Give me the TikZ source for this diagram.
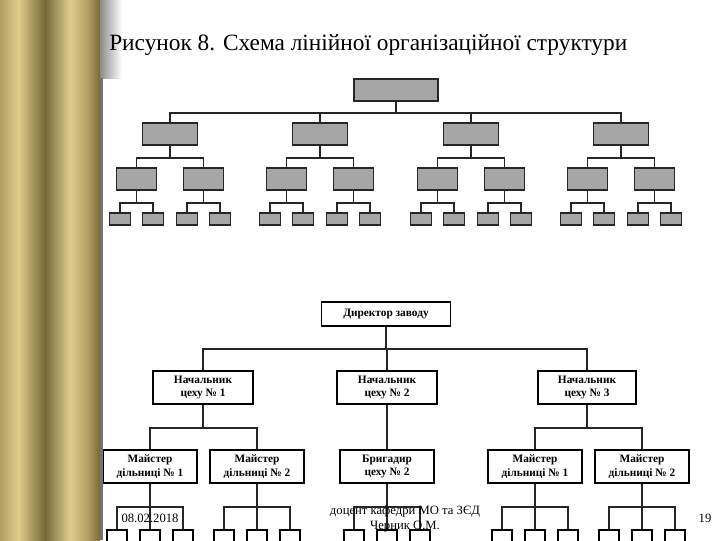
\documentclass[tikz,border=0pt]{standalone}
\usepackage{fontspec}
\setmainfont{Liberation Serif}
\definecolor{khl}{RGB}{222,206,140}
\definecolor{khd}{RGB}{120,104,56}
\definecolor{khm}{RGB}{176,158,96}
\begin{document}
\begin{tikzpicture}[x=0.75pt,y=-0.75pt,
  gbox/.style={draw=black!85,line width=1.2pt,fill=black!35,inner sep=0pt},
  wbox/.style={draw=black,line width=1.2pt,fill=white,inner sep=0pt,align=center,font=\fontsize{8.5}{10}\selectfont\bfseries},
  ln/.style={draw=black!85,line width=1.2pt},
  ft/.style={font=\fontsize{9.5}{11}\selectfont,inner sep=0pt}]
\useasboundingbox (0,0) rectangle (720,540);
\fill[white] (0,0) rectangle (720,540);
% decorative strip
\shade[left color=khm,right color=khl] (0,0) rectangle (18,540);
\shade[left color=khl,right color=khd] (18,0) rectangle (45,540);
\shade[left color=khd,right color=khl] (45,0) rectangle (70,540);
\shade[left color=khl,right color=khm] (70,0) rectangle (88,540);
\shade[left color=khm,right color=khd] (88,0) rectangle (100,540);
\shade[left color=black!45,right color=white] (100,0) rectangle (122,78);
\fill[black!55] (100,78) rectangle (103,540);
\node[anchor=west,inner sep=0pt,font=\fontsize{17.5}{20}\selectfont] (title) at (109,45) {Рисунок 8. Схема лінійної організаційної структури};
% top tree
\node[gbox,minimum width=84*0.75pt,minimum height=22*0.75pt] (R) at (396,90) {};
\foreach \i/\x in {1/170,2/320,3/471,4/621}{
  \node[gbox,minimum width=55*0.75pt,minimum height=22*0.75pt] (A\i) at (\x,134) {};
  \draw[ln] (R.south) -- ++(0,11) -| (A\i.north);
  \foreach \j/\dx in {1/-33.5,2/33.5}{
    \node[gbox,minimum width=40*0.75pt,minimum height=22*0.75pt] (B\i\j) at (\x+\dx,179) {};
    \draw[ln] (A\i.south) -- ++(0,12) -| (B\i\j.north);
    \foreach \k/\ex in {1/-16.5,2/16.5}{
      \node[gbox,minimum width=21*0.75pt,minimum height=12*0.75pt] (C\i\j\k) at (\x+\dx+\ex,219) {};
      \draw[ln] (B\i\j.south) -- ++(0,12) -| (C\i\j\k.north);
    }
  }
}
% bottom tree
\begin{scope}
\clip (103,290) rectangle (720,540);
\node[wbox,minimum width=129*0.75pt,minimum height=24*0.75pt] (D) at (386,314) {Директор заводу};
\node[wbox,minimum width=100*0.75pt,minimum height=33*0.75pt] (N1) at (203,387.5) {Начальник\\цеху № 1};
\node[wbox,minimum width=100*0.75pt,minimum height=33*0.75pt] (N2) at (387,387.5) {Начальник\\цеху № 2};
\node[wbox,minimum width=98*0.75pt,minimum height=33*0.75pt] (N3) at (587,387.5) {Начальник\\цеху № 3};
\foreach \n in {N1,N2,N3}{\draw[ln] (D.south) -- ++(0,22) -| (\n.north);}
\node[wbox,minimum width=94*0.75pt,minimum height=33*0.75pt] (M1) at (150,466.5) {Майстер\\дільниці № 1};
\node[wbox,minimum width=94*0.75pt,minimum height=33*0.75pt] (M2) at (257,466.5) {Майстер\\дільниці № 2};
\node[wbox,minimum width=94*0.75pt,minimum height=33*0.75pt] (M3) at (387,466.5) {Бригадир\\цеху № 2};
\node[wbox,minimum width=94*0.75pt,minimum height=33*0.75pt] (M4) at (535,466.5) {Майстер\\дільниці № 1};
\node[wbox,minimum width=94*0.75pt,minimum height=33*0.75pt] (M5) at (642,466.5) {Майстер\\дільниці № 2};
\draw[ln] (N1.south) -- ++(0,23) -| (M1.north);
\draw[ln] (N1.south) -- ++(0,23) -| (M2.north);
\draw[ln] (N2.south) -- (M3.north);
\draw[ln] (N3.south) -- ++(0,23) -| (M4.north);
\draw[ln] (N3.south) -- ++(0,23) -| (M5.north);
\foreach \m/\x in {M1/150,M2/257,M3/387,M4/535,M5/642}{
  \foreach \k/\dx in {1/-33,2/0,3/33}{
    \node[wbox,minimum width=20*0.75pt,minimum height=16*0.75pt] (L\m\k) at (\x+\dx,538) {};
    \draw[ln] (\m.south) -- ++(0,23) -| (L\m\k.north);
  }
}
\end{scope}
% footer
\node[ft] (date) at (150,518) {08.02.2018};
\node[ft,align=center] (auth) at (405,519) {доцент кафедри МО та ЗЄД\\Черник О.М.};
\node[ft] (pg) at (705,518) {19};
\end{tikzpicture}
\end{document}
